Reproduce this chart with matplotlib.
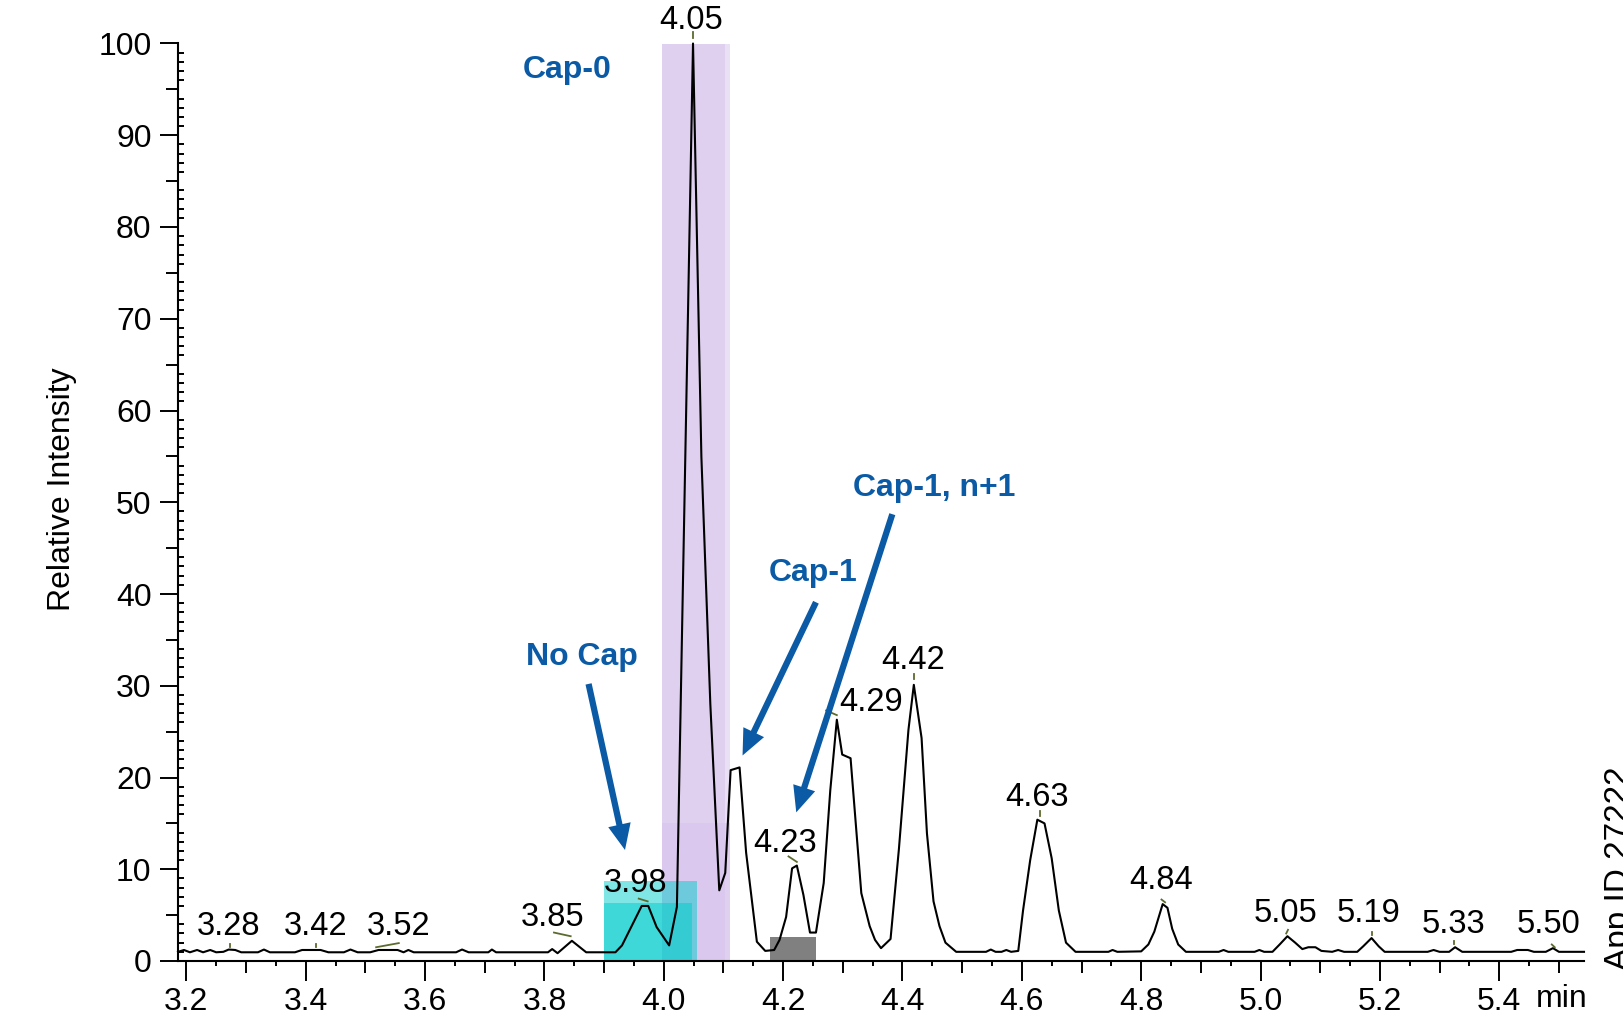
import numpy as np
import matplotlib
matplotlib.use('Agg')
import matplotlib.pyplot as plt
from matplotlib.ticker import MultipleLocator, FuncFormatter

plt.rcParams['font.family'] = ['Liberation Sans', 'DejaVu Sans']

# chromatogram trace (min, relative intensity)
times = [3.186, 3.196, 3.206, 3.218, 3.228, 3.240, 3.250, 3.262, 3.271, 3.282, 3.292,
         3.320, 3.330, 3.340, 3.382, 3.394, 3.425, 3.438, 3.464, 3.475, 3.487, 3.508,
         3.522, 3.554, 3.564, 3.572, 3.581, 3.652, 3.662, 3.673, 3.706, 3.712, 3.719,
         3.806, 3.813, 3.822, 3.846, 3.870, 3.919, 3.930, 3.963, 3.974, 3.988, 4.009,
         4.022, 4.049, 4.063, 4.078, 4.093, 4.103, 4.112, 4.127, 4.138, 4.156, 4.170,
         4.185, 4.194, 4.205, 4.215, 4.223, 4.234, 4.245, 4.255, 4.268, 4.279, 4.290,
         4.299, 4.313, 4.331, 4.345, 4.354, 4.364, 4.380, 4.394, 4.410, 4.419, 4.432,
         4.441, 4.452, 4.462, 4.472, 4.490, 4.540, 4.548, 4.556, 4.566, 4.574, 4.582,
         4.594, 4.602, 4.614, 4.626, 4.638, 4.650, 4.662, 4.674, 4.690, 4.745, 4.752,
         4.760, 4.800, 4.812, 4.822, 4.836, 4.844, 4.852, 4.862, 4.875, 4.930, 4.938,
         4.946, 4.990, 4.998, 5.006, 5.020, 5.032, 5.045, 5.058, 5.070, 5.080, 5.092,
         5.102, 5.120, 5.130, 5.140, 5.162, 5.172, 5.186, 5.198, 5.208, 5.280, 5.290,
         5.300, 5.316, 5.326, 5.338, 5.420, 5.430, 5.448, 5.458, 5.478, 5.490, 5.500,
         5.542]
intensity = [1.00, 1.20, 0.95, 1.20, 0.95, 1.20, 0.95, 1.00, 1.25, 1.20, 0.95,
             0.95, 1.25, 0.95, 0.95, 1.20, 1.20, 0.95, 0.95, 1.25, 0.95, 0.95,
             1.20, 1.20, 0.95, 1.20, 0.95, 0.95, 1.25, 0.95, 0.95, 1.25, 0.95,
             0.95, 1.30, 0.85, 2.20, 0.95, 0.95, 1.70, 6.00, 6.00, 3.70, 1.70,
             5.90, 100.0, 55.0, 28.0, 7.70, 9.60, 20.8, 21.1, 11.8, 2.10, 1.10,
             1.20, 2.30, 4.80, 10.1, 10.4, 7.20, 3.10, 3.10, 8.50, 18.6, 26.3,
             22.5, 22.1, 7.40, 3.80, 2.30, 1.40, 2.40, 12.2, 25.2, 30.1, 24.3,
             13.9, 6.50, 3.80, 2.00, 1.00, 1.00, 1.25, 1.00, 1.00, 1.20, 1.00,
             1.10, 5.50, 11.0, 15.4, 15.0, 11.2, 5.50, 2.00, 1.00, 1.00, 1.20,
             1.00, 1.05, 1.80, 3.20, 6.20, 5.80, 3.50, 1.80, 1.00, 1.00, 1.20,
             1.00, 1.00, 1.20, 1.00, 1.00, 1.80, 2.70, 2.00, 1.30, 1.50, 1.50,
             1.10, 1.00, 1.20, 1.00, 1.00, 1.60, 2.50, 1.60, 1.00, 1.00, 1.20,
             1.00, 1.00, 1.50, 1.00, 1.00, 1.20, 1.20, 1.00, 1.00, 1.40, 1.00,
             1.00]

# peak labels: text, x, y (centre of text)
peak_labels = ['3.28', '3.42', '3.52', '3.85', '3.98', '4.05', '4.23', '4.29',
               '4.42', '4.63', '4.84', '5.05', '5.19', '5.33', '5.50']
label_x = [3.271, 3.417, 3.556, 3.814, 3.953, 4.045, 4.204, 4.347,
           4.418, 4.626, 4.834, 5.041, 5.181, 5.324, 5.483]
label_y = [3.8, 3.8, 3.8, 4.7, 8.5, 102.5, 12.8, 28.2,
           32.8, 17.8, 8.8, 5.2, 5.2, 4.0, 4.0]

# small green leader lines (x0, y0, x1, y1)
leaders = [(3.273, 1.5, 3.273, 1.9), (3.418, 1.5, 3.418, 1.9), (3.518, 1.5, 3.556, 1.95),
           (3.816, 3.1, 3.844, 2.7), (3.958, 6.8, 3.973, 6.5), (4.049, 100.6, 4.049, 101.3),
           (4.209, 11.4, 4.223, 10.8), (4.272, 27.3, 4.290, 26.8), (4.419, 30.7, 4.419, 31.3),
           (4.631, 15.8, 4.631, 16.4), (4.834, 6.7, 4.840, 6.4), (5.043, 3.0, 5.046, 3.4),
           (5.186, 2.8, 5.186, 3.2), (5.325, 1.8, 5.325, 2.2), (5.488, 1.8, 5.493, 1.5)]

# integration windows (start, end, height)
purple_windows = [(3.997, 4.111, 100), (3.997, 4.103, 100), (3.997, 4.111, 15)]
cyan_windows = [(3.899, 4.055, 8.7), (3.899, 4.047, 6.3)]
gray_windows = [(4.178, 4.255, 2.65)]

# annotations: text, text pos, arrow tail, arrow tip
notes = ['Cap-0', 'No Cap', 'Cap-1', 'Cap-1, n+1']
note_xy = [(3.838, 97.1), (3.863, 33.1), (4.251, 42.3), (4.453, 51.6)]
arrow_tail = [None, (3.874, 30.2), (4.255, 39.1), (4.383, 48.7)]
arrow_tip = [None, (3.935, 12.1), (4.132, 22.4), (4.222, 16.2)]

blue = '#0a5aa5'

fig = plt.figure(figsize=(16.24, 10.28), dpi=100)
ax = fig.add_axes([178/1624, 67/1028, 1406/1624, 917.5/1028])

for s, e, h in purple_windows:
    ax.bar(s, h, width=e - s, align='edge', color=(0.84, 0.76, 0.93), alpha=0.5, lw=0, zorder=1)
for s, e, h in cyan_windows:
    ax.bar(s, h, width=e - s, align='edge', color=(0.0, 0.8, 0.8), alpha=0.5, lw=0, zorder=2)
for s, e, h in gray_windows:
    ax.bar(s, h, width=e - s, align='edge', color='#808080', lw=0, zorder=2)

ax.plot(times, intensity, color='black', lw=1.5, zorder=4, clip_on=False)

for x0, y0, x1, y1 in leaders:
    ax.plot([x0, x1], [y0, y1], color='#5b6b2e', lw=1.3, zorder=5, clip_on=False)

for t, x, y in zip(peak_labels, label_x, label_y):
    ax.text(x, y, t, ha='center', va='center', fontsize=23.5, zorder=6, clip_on=False)

for t, xy, tail, tip in zip(notes, note_xy, arrow_tail, arrow_tip):
    ax.text(xy[0], xy[1], t, ha='center', va='center', fontsize=23,
            fontweight='bold', color=blue, zorder=6)
    if tail is not None:
        ax.annotate('', xy=tip, xytext=tail,
                    arrowprops=dict(arrowstyle='simple,head_length=0.62,head_width=0.55,tail_width=0.15',
                                    color=blue, lw=0, mutation_scale=30,
                                    shrinkA=0, shrinkB=0), zorder=7)

ax.set_xlim(3.186, 5.542)
ax.set_ylim(0, 100)

for side in ['top', 'right']:
    ax.spines[side].set_visible(False)
for side in ['left', 'bottom']:
    ax.spines[side].set_linewidth(1.5)

ax.xaxis.set_major_locator(MultipleLocator(0.1))
ax.xaxis.set_minor_locator(MultipleLocator(0.05))
ax.xaxis.set_major_formatter(FuncFormatter(
    lambda v, p: f'{v:.1f}' if abs(round(v * 10) % 2) == 0 and v < 5.45 else ''))
ax.yaxis.set_major_locator(MultipleLocator(5))
ax.yaxis.set_minor_locator(MultipleLocator(1))
ax.yaxis.set_major_formatter(FuncFormatter(
    lambda v, p: f'{int(round(v))}' if int(round(v)) % 10 == 0 else ''))

ax.tick_params(axis='x', which='major', direction='out', length=14.4, width=1.4,
               labelsize=23, pad=4)
ax.tick_params(axis='x', which='minor', direction='out', length=3.8, width=1.4)
ax.tick_params(axis='y', which='major', direction='out', length=13, width=1.4,
               labelsize=23, pad=6)
ax.tick_params(axis='y', which='minor', direction='in', length=4.5, width=1.4)

# shorter ticks at odd 0.1 min and at the 5s of the intensity axis
xlocs = ax.xaxis.get_majorticklocs()
for loc, tk in zip(xlocs, ax.xaxis.get_major_ticks(len(xlocs))):
    if round(loc * 10) % 2 == 1:
        tk.tick1line.set_markersize(8.6)
ylocs = ax.yaxis.get_majorticklocs()
for loc, tk in zip(ylocs, ax.yaxis.get_major_ticks(len(ylocs))):
    if int(round(loc)) % 10 == 5:
        tk.tick1line.set_markersize(8.6)

ax.text(5.505, -0.041, 'min', transform=ax.get_xaxis_transform(),
        ha='center', va='center', fontsize=23)

fig.text(62/1624, 1 - 489/1028, 'Relative Intensity', rotation=90,
         ha='center', va='center', fontsize=23)
fig.text(1604/1624, 1 - 766/1028, 'App ID 27222', rotation=90,
         ha='left', va='top', fontsize=24)

fig.savefig('out.png', dpi=100)
